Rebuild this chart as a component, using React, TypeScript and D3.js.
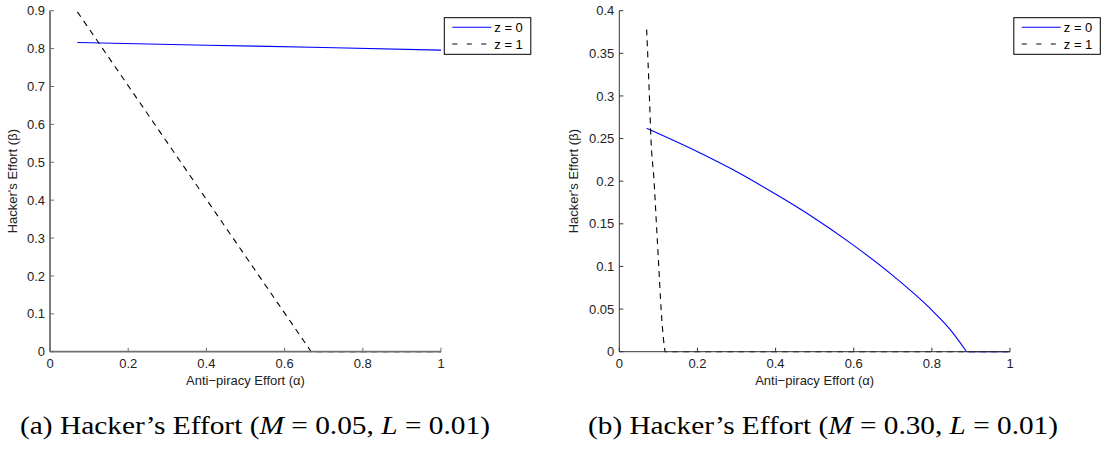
import React from "react";
import * as d3 from "d3";

// ---- data ----
const xTicks = [0, 0.2, 0.4, 0.6, 0.8, 1];
const xTickLabels = ["0", "0.2", "0.4", "0.6", "0.8", "1"];

const leftYTicks = [0, 0.1, 0.2, 0.3, 0.4, 0.5, 0.6, 0.7, 0.8, 0.9];
const leftYTickLabels = ["0", "0.1", "0.2", "0.3", "0.4", "0.5", "0.6", "0.7", "0.8", "0.9"];
const rightYTicks = [0, 0.05, 0.1, 0.15, 0.2, 0.25, 0.3, 0.35, 0.4];
const rightYTickLabels = ["0", "0.05", "0.1", "0.15", "0.2", "0.25", "0.3", "0.35", "0.4"];

const leftZ0Alpha = [0.07, 0.4, 0.7, 1.0];
const leftZ0Beta = [0.816, 0.809, 0.803, 0.796];
const leftZ1Alpha = [0.07, 0.668, 1.0];
const leftZ1Beta = [0.897, 0.0, 0.0];

const rightZ0Alpha = [0.07, 0.207, 0.303, 0.403, 0.488, 0.599, 0.701, 0.795, 0.846, 0.889, 1.0];
const rightZ0Beta = [0.262, 0.233, 0.2105, 0.184, 0.16, 0.125, 0.089, 0.051, 0.0265, 0.0, 0.0];
const rightZ1Alpha = [0.07, 0.077, 0.081, 0.089, 0.095, 0.101, 0.107, 0.113, 0.117, 1.0];
const rightZ1Beta = [0.378, 0.3, 0.25, 0.2, 0.15, 0.1, 0.05, 0.015, 0.0, 0.0];

const legendLabels = ["z = 0", "z = 1"];
const xLabel = "Anti\u2212piracy Effort (\u03b1)";
const yLabel = "Hacker's Effort (\u03b2)";

const FONT = "'Liberation Sans', Arial, Helvetica, sans-serif";
const SERIF = "'Liberation Serif', 'Times New Roman', serif";

type PanelProps = {
  x0: number;
  x1: number;
  yMax: number;
  yTicks: number[];
  yTickLabels: string[];
  z0: [number[], number[]];
  z1: [number[], number[]];
  yLabelX: number;
  legendX: number;
  axisColor: string;
  axisWidth: number;
};

const Y_TOP = 10.7;
const Y_BOT = 351.7;

// split a series into its curved part (up to first zero) and the flat zero tail
function splitAtZero(pts: [number, number][]) {
  const k = pts.findIndex((d) => d[1] === 0);
  if (k < 0) return [pts, [] as [number, number][]];
  return [pts.slice(0, k + 1), pts.slice(k)];
}

function Panel(p: PanelProps) {
  const xs = d3.scaleLinear().domain([0, 1]).range([p.x0, p.x1]);
  const ys = d3.scaleLinear().domain([0, p.yMax]).range([Y_BOT, Y_TOP]);
  const curve = d3
    .line<[number, number]>()
    .x((d) => xs(d[0]))
    .y((d) => ys(d[1]))
    .curve(d3.curveMonotoneX);
  const z0 = p.z0[0].map((a, i) => [a, p.z0[1][i]] as [number, number]);
  const z1 = p.z1[0].map((a, i) => [a, p.z1[1][i]] as [number, number]);
  const [z0a, z0b] = splitAtZero(z0);
  const [z1a, z1b] = splitAtZero(z1);
  const z0d = (curve(z0a) || "") + (z0b.length ? curve(z0b) || "" : "");
  const z1d = (curve(z1a) || "") + (z1b.length ? "L" + (curve(z1b) || "").slice(1) : "");
  const lx = p.legendX;
  return (
    <g>
      <path d={z0d} fill="none" stroke="#0000ff" strokeWidth={1.1} />
      <path d={z1d} fill="none" stroke="#000" strokeWidth={1.1} strokeDasharray="6,5" />
      {/* axes */}
      <line x1={p.x0} x2={p.x0} y1={Y_TOP} y2={Y_BOT} stroke={p.axisColor} strokeWidth={p.axisWidth} />
      <line x1={p.x0} x2={p.x1} y1={Y_BOT} y2={Y_BOT} stroke={p.axisColor} strokeWidth={p.axisWidth} />
      {xTicks.map((t, i) => (
        <g key={"x" + i}>
          <line x1={xs(t)} x2={xs(t)} y1={Y_BOT} y2={Y_BOT - 4} stroke={p.axisColor} strokeWidth={1} />
          <text x={xs(t)} y={Y_BOT + 16.5} textAnchor="middle" fontSize={13} fontFamily={FONT} fill="#222">
            {xTickLabels[i]}
          </text>
        </g>
      ))}
      {p.yTicks.map((t, i) => (
        <g key={"y" + i}>
          <line x1={p.x0} x2={p.x0 + 4} y1={ys(t)} y2={ys(t)} stroke={p.axisColor} strokeWidth={1} />
          <text x={p.x0 - 5} y={ys(t) + 4.6} textAnchor="end" fontSize={13} fontFamily={FONT} fill="#222">
            {p.yTickLabels[i]}
          </text>
        </g>
      ))}
      <text x={(p.x0 + p.x1) / 2} y={385} textAnchor="middle" fontSize={13} fontFamily={FONT} fill="#222">
        {xLabel}
      </text>
      <text
        transform={`translate(${p.yLabelX},${(Y_TOP + Y_BOT) / 2}) rotate(-90)`}
        textAnchor="middle"
        fontSize={13}
        fontFamily={FONT}
        fill="#222"
      >
        {yLabel}
      </text>
      {/* legend */}
      <rect x={lx} y={17.7} width={86.5} height={36.6} fill="#fff" stroke="#000" strokeWidth={1} />
      <line x1={lx + 8} x2={lx + 47} y1={27.3} y2={27.3} stroke="#0000ff" strokeWidth={1.1} />
      <line x1={lx + 8} x2={lx + 47} y1={44} y2={44} stroke="#000" strokeWidth={1.1} strokeDasharray="5,9.5" />
      <text x={lx + 50} y={32} fontSize={13} fontFamily={FONT} fill="#000">
        {legendLabels[0]}
      </text>
      <text x={lx + 50} y={48.7} fontSize={13} fontFamily={FONT} fill="#000">
        {legendLabels[1]}
      </text>
    </g>
  );
}

export default function App() {
  return (
    <svg
      width={1106}
      height={449}
      style={{ position: "absolute", left: 0, top: 0, background: "#fff" }}
    >
      <rect x={0} y={0} width={1106} height={449} fill="#fff" />
      <Panel
        x0={50}
        x1={441}
        yMax={0.9}
        yTicks={leftYTicks}
        yTickLabels={leftYTickLabels}
        z0={[leftZ0Alpha, leftZ0Beta]}
        z1={[leftZ1Alpha, leftZ1Beta]}
        yLabelX={17}
        legendX={444.3}
        axisColor="#6e6e6e"
        axisWidth={1.8}
      />
      <Panel
        x0={619.3}
        x1={1010}
        yMax={0.4}
        yTicks={rightYTicks}
        yTickLabels={rightYTickLabels}
        z0={[rightZ0Alpha, rightZ0Beta]}
        z1={[rightZ1Alpha, rightZ1Beta]}
        yLabelX={578}
        legendX={1013.8}
        axisColor="#333"
        axisWidth={1}
      />
      <text x={20} y={434} fontSize={25} fontFamily={SERIF} fill="#000" textLength={470} lengthAdjust="spacingAndGlyphs">
        (a) Hacker’s Effort (<tspan fontStyle="italic">M</tspan> = 0.05, <tspan fontStyle="italic">L</tspan> = 0.01)
      </text>
      <text x={588} y={434} fontSize={25} fontFamily={SERIF} fill="#000" textLength={470} lengthAdjust="spacingAndGlyphs">
        (b) Hacker’s Effort (<tspan fontStyle="italic">M</tspan> = 0.30, <tspan fontStyle="italic">L</tspan> = 0.01)
      </text>
    </svg>
  );
}
